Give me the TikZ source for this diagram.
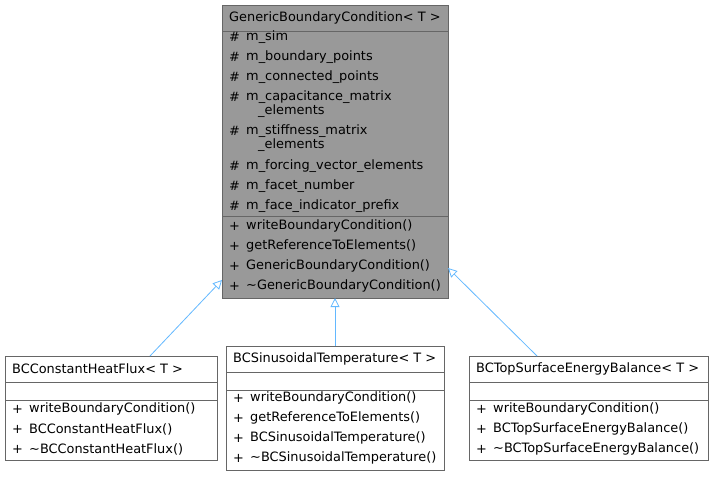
\documentclass[tikz,border=0pt]{standalone}
\usepackage{fontspec}
\setmainfont{DejaVu Sans}
\usetikzlibrary{arrows.meta}
\begin{document}
\begin{tikzpicture}[x=1pt,y=-1pt,
  box/.style={draw=black!60,line width=0.8pt},
  t/.style={anchor=west,inner sep=0pt,font=\fontsize{12.9}{14}\selectfont},
  inh/.style={line width=0.8pt,-{Triangle[open,length=9pt,width=9pt]},color={rgb,255:red,99;green,184;blue,255}}]
\useasboundingbox (0,0) rectangle (713,479);
% top class
\draw[box,fill=black!40] (222,5) rectangle (448,298);
\draw[box] (222,31) -- (448,31) (222,216) -- (448,216);
\coordinate (top) at (335,298);
\node[t] (tt) at (229,18) {GenericBoundaryCondition< T >};
\foreach \y/\s [count=\i] in {37/m\_sim,57/m\_boundary\_points,77/m\_connected\_points,97/m\_capacitance\_matrix,131/m\_stiffness\_matrix,166/m\_forcing\_vector\_elements,186/m\_facet\_number,206/m\_face\_indicator\_prefix}{
  \node[t] (ah\i) at (229,\y) {\#};
  \node[t] (a\i) at (246,\y) {\s};}
\node[t] (a4b) at (258,111) {\_elements};
\node[t] (a5b) at (258,145) {\_elements};
\foreach \y/\s [count=\i] in {226/writeBoundaryCondition(),246/getReferenceToElements(),266/GenericBoundaryCondition(),286/\textasciitilde GenericBoundaryCondition()}{
  \node[t] (mh\i) at (229,\y) {+};
  \node[t] (m\i) at (246,\y) {\s};}
% left
\draw[box,fill=white] (5,356) rectangle (217,460);
\draw[box] (5,382) -- (217,382) (5,400) -- (217,400);
\node[t] (lt) at (12,369) {BCConstantHeatFlux< T >};
\foreach \y/\s [count=\i] in {409/writeBoundaryCondition(),429/BCConstantHeatFlux(),449/\textasciitilde BCConstantHeatFlux()}{
  \node[t] (lh\i) at (12,\y) {+};
  \node[t] (l\i) at (29,\y) {\s};}
% middle
\draw[box,fill=white] (226,346) rectangle (444,470);
\draw[box] (226,372) -- (444,372) (226,390) -- (444,390);
\node[t] (ct) at (233,359) {BCSinusoidalTemperature< T >};
\foreach \y/\s [count=\i] in {398/writeBoundaryCondition(),418/getReferenceToElements(),438/BCSinusoidalTemperature(),458/\textasciitilde BCSinusoidalTemperature()}{
  \node[t] (ch\i) at (233,\y) {+};
  \node[t] (c\i) at (250,\y) {\s};}
% right
\draw[box,fill=white] (469,356) rectangle (708,460);
\draw[box] (469,382) -- (708,382) (469,400) -- (708,400);
\node[t] (rt) at (476,369) {BCTopSurfaceEnergyBalance< T >};
\foreach \y/\s [count=\i] in {409/writeBoundaryCondition(),429/BCTopSurfaceEnergyBalance(),449/\textasciitilde BCTopSurfaceEnergyBalance()}{
  \node[t] (rh\i) at (476,\y) {+};
  \node[t] (r\i) at (493,\y) {\s};}
\coordinate (lA) at (150,356); \coordinate (lB) at (222,280);
\coordinate (cA) at (335,346);
\coordinate (rA) at (537,356); \coordinate (rB) at (448,268);
\draw[inh] (lA) -- (lB);
\draw[inh] (cA) -- (top);
\draw[inh] (rA) -- (rB);
\end{tikzpicture}
\end{document}
